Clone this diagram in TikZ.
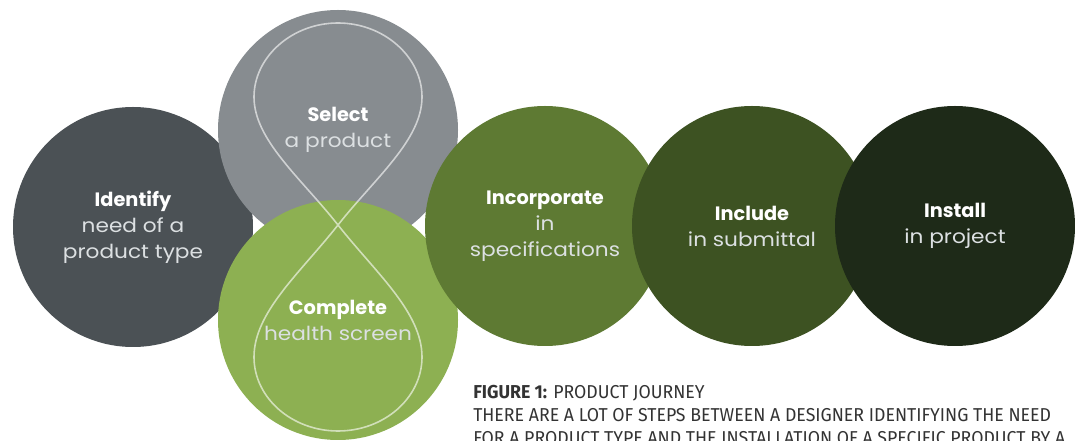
\documentclass[tikz,border=0pt]{standalone}
\usepackage{fontspec}
\setmainfont{Poppins}
\newfontfamily\litefont{Poppins}[FakeStretch=1.12]
\newfontfamily\capfont{Fira Sans}[FakeStretch=0.95]
\usepackage{xcolor}
\usetikzlibrary{positioning}
\definecolor{c0}{HTML}{4B5155}
\definecolor{c1}{HTML}{878C90}
\definecolor{c2}{HTML}{8DB052}
\definecolor{c3}{HTML}{5E7A33}
\definecolor{c4}{HTML}{3D5222}
\definecolor{c5}{HTML}{1E2A18}
\definecolor{lite}{HTML}{DCE0E2}
\definecolor{captext}{HTML}{333333}
\newcommand{\lite}[1]{{\litefont\color{lite}#1}}

\begin{document}
\begin{tikzpicture}[x=0.75pt, y=-0.75pt,
    bubble/.style={circle, minimum size=180pt, inner sep=0pt, align=center, text=white,
        font=\fontsize{14.5}{19.5}\selectfont, execute at begin node={\rule{0pt}{25pt}}},
    eight/.style={draw=white, draw opacity=0.6, line width=1.2pt}]
    \useasboundingbox (0,0) rectangle (1075,441);
    \fill[white] (0,0) rectangle (1075,441);
    \node[bubble, fill=c0] (0) at (133,227) {\textbf{Identify}\\\lite{need of a}\\\lite{product type}};
    \node[bubble, fill=c1] (1) at (338,130) {\textbf{Select}\\\lite{a product}};
    \node[bubble, fill=c2] (2) at (338,320) {\textbf{Complete}\\\lite{health screen}};
    % figure eight over select and complete
    \coordinate (x) at (338,225);
    \draw[eight] (x) .. controls (375,178) and (422,140) .. (422,97)
        .. controls (422,57) and (384,23) .. (338,23)
        .. controls (292,23) and (254,57) .. (254,97)
        .. controls (254,140) and (301,178) .. (x)
        .. controls (375,272) and (422,312) .. (422,357)
        .. controls (422,398) and (384,431) .. (338,431)
        .. controls (292,431) and (254,398) .. (254,357)
        .. controls (254,312) and (301,272) .. (x);
    \node[bubble, fill=c3] (3) at (545,226) {\textbf{Incorporate}\\\lite{in}\\\lite{specifications}};
    \node[bubble, fill=c4] (4) at (752,226) {\textbf{Include}\\\lite{in submittal}};
    \node[bubble, fill=c5] (5) at (955,226) {\textbf{Install}\\\lite{in project}};
    \node[anchor=base west, align=left, inner sep=0pt, text=captext,
        font=\capfont\fontsize{14}{17.25}\selectfont] (6) at (473,445)
        {\textbf{FIGURE 1:} PRODUCT JOURNEY\\
        THERE ARE A LOT OF STEPS BETWEEN A DESIGNER IDENTIFYING THE NEED\\
        FOR A PRODUCT TYPE AND THE INSTALLATION OF A SPECIFIC PRODUCT BY A};
\end{tikzpicture}
\end{document}
